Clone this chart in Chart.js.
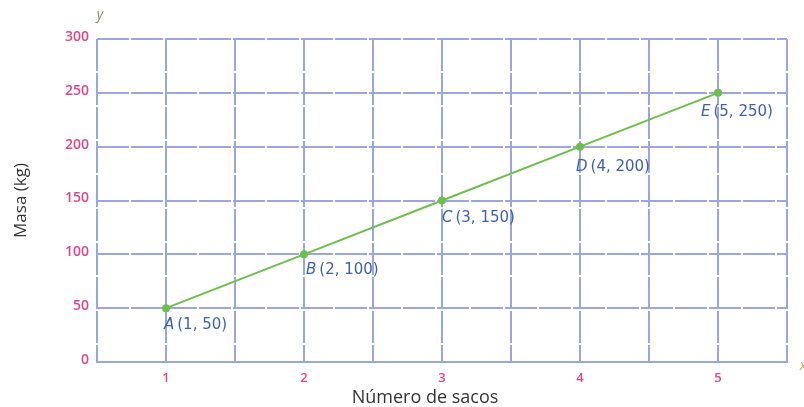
<!DOCTYPE html>
<html>
<head>
<meta charset="utf-8">
<script src="https://cdn.jsdelivr.net/npm/chart.js@4/dist/chart.umd.min.js"></script>
<style>
  html, body { margin: 0; padding: 0; background: #fff; }
  #wrap { width: 804px; height: 407px; }
</style>
</head>
<body>
<div id="wrap"><canvas id="masaChart" width="804" height="407"></canvas></div>
<script>
const sacos = [1, 2, 3, 4, 5];
const masa = [50, 100, 150, 200, 250];
const letras = ['A', 'B', 'C', 'D', 'E'];
// desplazamiento de cada etiqueta respecto a su punto
const etiquetaDx = [-2, 2, 0, -4, -17];
const etiquetaDy = [17, 16, 18, 20, 19];

const gridColor = '#9ba6de';
const tickColor = '#e0458a';
const fontFam = '"Open Sans", Lato, sans-serif';
const fontEtiq = '"DejaVu Sans", "Open Sans", sans-serif';

// etiquetas "A (1, 50)" junto a cada punto
const etiquetasPuntos = {
    id: 'etiquetasPuntos',
    afterDatasetsDraw(chart) {
        const ctx = chart.ctx;
        const meta = chart.getDatasetMeta(0);
        ctx.save();
        ctx.fillStyle = '#3e5fae';
        ctx.textBaseline = 'middle';
        meta.data.forEach((p, i) => {
            let x = p.x + etiquetaDx[i];
            const y = p.y + etiquetaDy[i];
            ctx.font = 'italic 15px ' + fontEtiq;
            ctx.fillText(letras[i], x, y);
            x += ctx.measureText(letras[i]).width + 3;
            ctx.font = '15px ' + fontEtiq;
            ctx.fillText('(' + sacos[i] + ', ' + masa[i] + ')', x, y);
        });
        ctx.restore();
    }
};

// nombres de los ejes: x, y en los extremos y el título inferior
const nombresEjes = {
    id: 'nombresEjes',
    afterDraw(chart) {
        const ctx = chart.ctx;
        const a = chart.chartArea;
        ctx.save();
        ctx.textAlign = 'center';
        ctx.textBaseline = 'middle';
        ctx.font = 'italic 14px ' + fontFam;
        ctx.fillStyle = '#8a8a6a';
        ctx.fillText('y', a.left + 3, 15);
        ctx.fillStyle = '#c9a060';
        ctx.fillText('x', a.right + 16, a.bottom + 4);
        ctx.font = '18px ' + fontFam;
        ctx.fillStyle = '#333333';
        ctx.fillText('Número de sacos', 425, 398);
        ctx.restore();
    }
};

new Chart(document.getElementById('masaChart').getContext('2d'), {
    type: 'line',
    data: {
        datasets: [{
            data: sacos.map((s, i) => ({ x: s, y: masa[i] })),
            borderColor: '#6cc04a',
            backgroundColor: '#6cc04a',
            borderWidth: 2,
            pointRadius: 3,
            pointHoverRadius: 3,
            tension: 0
        }]
    },
    options: {
        responsive: false,
        animation: false,
        layout: { padding: { left: 0, top: 39, right: 17, bottom: 0 } },
        plugins: { legend: { display: false }, tooltip: { enabled: false } },
        scales: {
            x: {
                type: 'linear',
                min: 0.5,
                max: 5.5,
                afterFit: s => { s.height = 45; },
                ticks: {
                    stepSize: 0.5,
                    color: tickColor,
                    font: { family: fontFam, size: 13, weight: '600' },
                    padding: 8,
                    autoSkip: false,
                    maxRotation: 0,
                    callback: v => (Number.isInteger(v) && v >= 1 && v <= 5) ? String(v) : ''
                },
                grid: { color: gridColor, lineWidth: 2, drawTicks: false },
                border: { display: true, color: gridColor, width: 2, dash: [32, 2] }
            },
            y: {
                min: 0,
                max: 300,
                afterFit: s => { s.width = 97; },
                ticks: {
                    stepSize: 50,
                    color: tickColor,
                    font: { family: fontFam, size: 14, weight: '600' },
                    padding: 8,
                    labelOffset: -2
                },
                grid: { color: gridColor, lineWidth: 2, drawTicks: false },
                border: { display: false, dash: [32, 2] },
                title: {
                    display: true,
                    text: 'Masa (kg)',
                    color: '#333333',
                    font: { family: fontFam, size: 17 },
                    padding: { top: 11, bottom: 0 }
                }
            }
        }
    },
    plugins: [etiquetasPuntos, nombresEjes]
});
</script>
</body>
</html>
